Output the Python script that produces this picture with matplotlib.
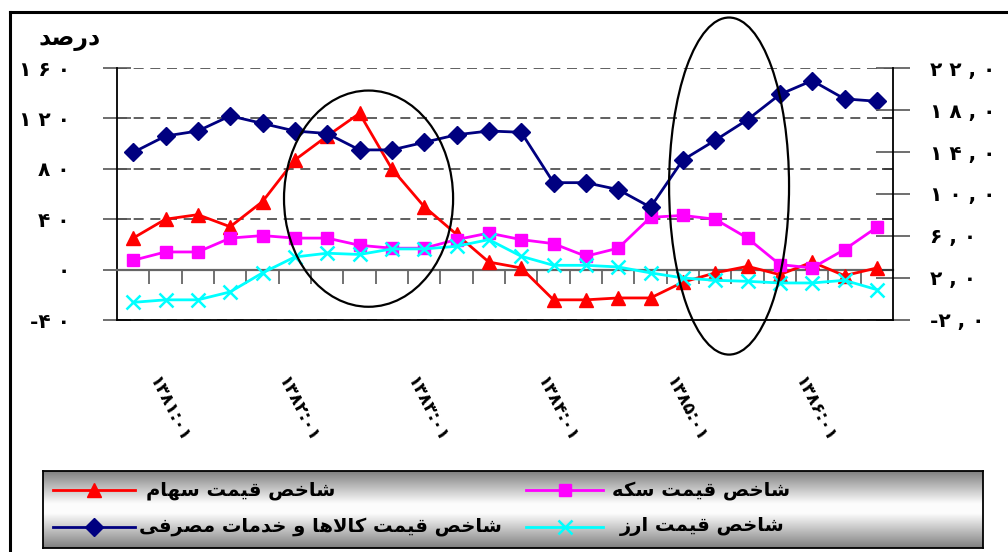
import numpy as np
import matplotlib
matplotlib.use('Agg')
import matplotlib.pyplot as plt
from matplotlib.patches import Ellipse
from matplotlib.lines import Line2D
import matplotlib.transforms as mtransforms

# ---------------- data ----------------
periods = list(range(24))  # quarterly periods 1381..1386
x_labels = ['۱۳۸۱:۰۱', '۱۳۸۲:۰۱', '۱۳۸۳:۰۱', '۱۳۸۴:۰۱', '۱۳۸۵:۰۱', '۱۳۸۶:۰۱']
x_label_pos = [0, 4, 8, 12, 16, 20]

stock = [25, 40, 43.6, 34, 54, 87, 106, 124, 80, 50, 28, 6,
         1.3, -24, -24, -22.5, -22.5, -10, -2.6, 2.6, -4, 6, -4.8, 1.3]
coin = [7.4, 14, 14, 25, 27, 25, 25, 19.3, 17, 17, 23.8, 29,
        23.8, 20.6, 10.6, 17, 41.5, 43, 40, 25, 4, 1.3, 15.9, 33.6]
cpi = [93, 106, 110, 122, 116, 110, 108, 95, 95, 101, 107, 110,
       109, 69, 69, 63.5, 49.5, 87, 102.6, 119, 139, 150, 135.5, 133.6]
fx = [-26, -24, -24, -17.7, -2.6, 10, 13, 12, 16.4, 16.4, 18.5, 23.8,
      10.6, 3.4, 3.4, 2.1, -2.6, -6.6, -8.5, -9.3, -10.6, -10.6, -8.5, -15.9]

left_ticks = [-40, 0, 40, 80, 120, 160]
right_ticks = [-2, 2, 6, 10, 14, 18, 22]

series_names = ['شاخص قیمت سهام', 'شاخص قیمت سکه',
                'شاخص قیمت کالاها و خدمات مصرفی', 'شاخص قیمت ارز']
y_title = 'درصد'

# ---------------- helpers ----------------
FA = str.maketrans('0123456789', '۰۱۲۳۴۵۶۷۸۹')


def fa_num(s):
    s = s.translate(FA)
    out = ''
    for i, c in enumerate(s):
        out += c
        if i < len(s) - 1 and c != '-':
            out += ' '
    return out


FORMS = {
    'ا': ('\uFE8D', '\uFE8E', None, None),
    'ت': ('\uFE95', '\uFE96', '\uFE97', '\uFE98'),
    'خ': ('\uFEA5', '\uFEA6', '\uFEA7', '\uFEA8'),
    'د': ('\uFEA9', '\uFEAA', None, None),
    'ر': ('\uFEAD', '\uFEAE', None, None),
    'ز': ('\uFEAF', '\uFEB0', None, None),
    'س': ('\uFEB1', '\uFEB2', '\uFEB3', '\uFEB4'),
    'ش': ('\uFEB5', '\uFEB6', '\uFEB7', '\uFEB8'),
    'ص': ('\uFEB9', '\uFEBA', '\uFEBB', '\uFEBC'),
    'ف': ('\uFED1', '\uFED2', '\uFED3', '\uFED4'),
    'ق': ('\uFED5', '\uFED6', '\uFED7', '\uFED8'),
    'ک': ('\uFB8E', '\uFB8F', '\uFB90', '\uFB91'),
    'ل': ('\uFEDD', '\uFEDE', '\uFEDF', '\uFEE0'),
    'م': ('\uFEE1', '\uFEE2', '\uFEE3', '\uFEE4'),
    'ه': ('\uFEE9', '\uFEEA', '\uFEEB', '\uFEEC'),
    'و': ('\uFEED', '\uFEEE', None, None),
    'ی': ('\uFBFC', '\uFBFD', '\uFBFE', '\uFBFF'),
}


def shape(text):
    chars = list(text)
    n = len(chars)

    def joins_next(c):
        return c in FORMS and FORMS[c][2] is not None

    res = []
    i = 0
    while i < n:
        c = chars[i]
        if c not in FORMS:
            res.append(c)
            i += 1
            continue
        prev = chars[i - 1] if i > 0 else None
        cp = prev is not None and joins_next(prev)
        if c == 'ل' and i + 1 < n and chars[i + 1] == 'ا':
            res.append('\uFEFC' if cp else '\uFEFB')
            i += 2
            continue
        nxt = chars[i + 1] if i + 1 < n else None
        cn = joins_next(c) and nxt is not None and nxt in FORMS
        f = FORMS[c]
        if cp and cn:
            g = f[3]
        elif cp:
            g = f[1]
        elif cn:
            g = f[2]
        else:
            g = f[0]
        res.append(g)
        i += 1
    return ''.join(reversed(res))


plt.rcParams['font.family'] = ['DejaVu Sans']

W, H = 1008, 552
fig = plt.figure(figsize=(W / 100, H / 100), dpi=100)
fig.patch.set_facecolor('white')

# ---------------- main axes ----------------
ax = fig.add_axes([117 / W, 1 - 320 / H, 776 / W, 252 / H])
ax.set_xlim(-0.5, 23.5)
ax.set_ylim(-40, 160)

styles = [
    dict(color='#FF0000', marker='^', ms=10.5, mec='#FF0000', mfc='#FF0000'),
    dict(color='#FF00FF', marker='s', ms=8.5, mec='#FF00FF', mfc='#FF00FF'),
    dict(color='#000080', marker='D', ms=9, mec='#000080', mfc='#000080'),
    dict(color='#00FFFF', marker='x', ms=9.5, mew=1.8, mec='#00FFFF'),
]
data = [stock, coin, cpi, fx]
for k, (vals, st) in enumerate(zip(data, styles)):
    ax.plot(periods, vals, lw=2, zorder=3 + k, clip_on=False, **st)

ax.set_yticks(left_ticks)
ax.set_yticklabels([fa_num(str(v)) for v in left_ticks], fontsize=14.5,
                   fontweight='bold')
ax.tick_params(axis='y', direction='inout', length=20, width=1.2,
               color='#555555', pad=24)
ax.yaxis.grid(True, linestyle=(0, (6, 4)), color='#444444', lw=1.2)
ax.set_axisbelow(True)

ax.spines['bottom'].set_position(('data', 0))
ax.spines['bottom'].set_color('#666666')
ax.spines['bottom'].set_linewidth(1.6)
ax.spines['top'].set_visible(False)
ax.spines['right'].set_visible(False)
ax.spines['left'].set_linewidth(1.3)
ax.set_xticks(np.arange(0.5, 23, 1))
ax.set_xticklabels([])
ax.tick_params(axis='x', direction='out', length=10, width=1.3,
               color='#666666')

trans = mtransforms.blended_transform_factory(ax.transData, ax.transAxes)
for pos, lab in zip(x_label_pos, x_labels):
    ax.text(pos + 0.6, -0.23, lab, transform=trans, rotation=-63,
            rotation_mode='anchor', ha='left', va='center', fontsize=12.5,
            fontweight='bold')

# ellipses highlighting periods
ax.add_patch(Ellipse((7.28, 56.3), 5.23, 171.6, fill=False, ec='black',
                     lw=1.6, clip_on=False, zorder=10))
ax.add_patch(Ellipse((18.43, 66.3), 3.71, 267.5, fill=False, ec='black',
                     lw=1.6, clip_on=False, zorder=10))

# ---------------- right axis ----------------
ax2 = ax.twinx()
ax2.set_ylim(-2, 22)
ax2.set_yticks(right_ticks)
ax2.set_yticklabels([fa_num(f'{v:.1f}'.replace('.', ',')) for v in right_ticks],
                    fontsize=14.5, fontweight='bold')
ax2.tick_params(axis='y', which='major', direction='inout', length=24,
                width=1.2, color='#555555', pad=15)
minor = [-2 + (v + 40) / 200 * 24 for v in left_ticks[1:-1]]
ax2.set_yticks(minor, minor=True)
ax2.tick_params(axis='y', which='minor', direction='in', length=8,
                width=1.2, color='#333333')
ax2.spines['top'].set_visible(False)
ax2.spines['left'].set_visible(False)
ax2.spines['bottom'].set_color('black')
ax2.spines['bottom'].set_linewidth(1.3)
ax2.spines['right'].set_linewidth(1.3)

fig.text(70 / W, 1 - 39 / H, shape(y_title), fontsize=17, fontweight='bold',
         ha='center', va='center')

# ---------------- figure frame ----------------
fig.add_artist(Line2D([10 / W, 10 / W], [0, 1 - 12 / H], color='black', lw=2.2,
                      transform=fig.transFigure))
fig.add_artist(Line2D([10 / W, 1], [1 - 12 / H, 1 - 12 / H], color='black', lw=2.2,
                      transform=fig.transFigure))

# ---------------- legend ----------------
lx0, lx1, ly0, ly1 = 43, 983, 471, 548
lax = fig.add_axes([lx0 / W, 1 - ly1 / H, (lx1 - lx0) / W, (ly1 - ly0) / H])
lax.set_xlim(lx0, lx1)
lax.set_ylim(ly1, ly0)
t = np.linspace(0, 1, 200)
g = np.interp(t, [0, 0.42, 0.55, 1], [0.5, 0.99, 0.99, 0.5])
grad = np.repeat(g[:, None], 2, axis=1)
lax.imshow(np.dstack([grad, grad, grad]), extent=[lx0, lx1, ly1, ly0],
           aspect='auto', interpolation='bicubic', zorder=0)
for sp in lax.spines.values():
    sp.set_linewidth(1.3)
lax.set_xticks([])
lax.set_yticks([])

entries = [  # (series index, line x0, line x1, text x, row y)
    (0, 53, 135, 146, 490),
    (2, 53, 135, 139, 527),
    (1, 526, 603, 612, 490),
    (3, 526, 603, 620, 527),
]
for idx, x0, x1, tx, yy in entries:
    st = styles[idx]
    lax.plot([x0, x1], [yy, yy], color=st['color'], lw=2, zorder=2)
    mk = {k: v for k, v in st.items() if k != 'color'}
    lax.plot([(x0 + x1) / 2], [yy], color=st['color'], zorder=3, **mk)
    lax.text(tx, yy, shape(series_names[idx]), fontsize=14, fontweight='bold',
             ha='left', va='center', zorder=4)

fig.savefig('out.png', dpi=100)
